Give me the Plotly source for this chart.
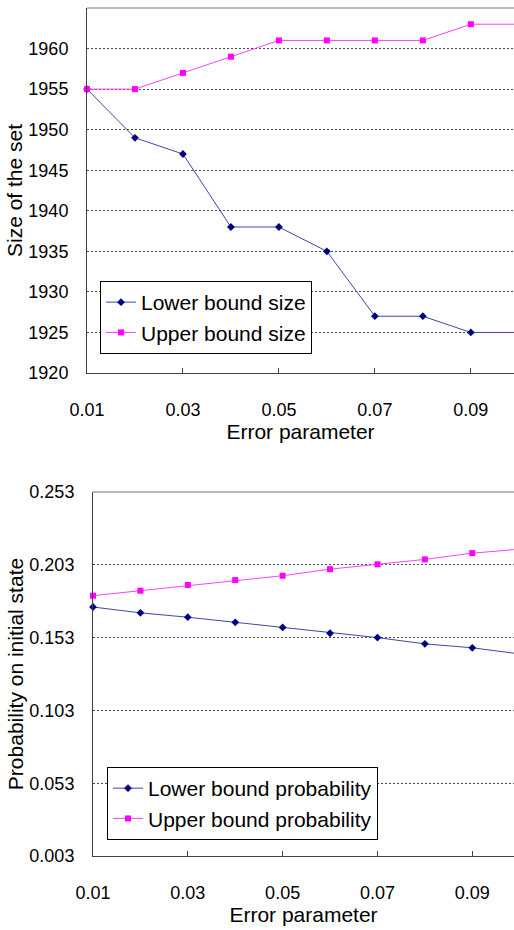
import plotly.graph_objects as go

# ---- data ----
error_param = [0.01, 0.02, 0.03, 0.04, 0.05, 0.06, 0.07, 0.08, 0.09, 0.10]
lower_size = [1955, 1949, 1947, 1938, 1938, 1935, 1927, 1927, 1925, 1925]
upper_size = [1955, 1955, 1957, 1959, 1961, 1961, 1961, 1961, 1963, 1963]
lower_prob = [0.174, 0.170, 0.167, 0.1635, 0.160, 0.156, 0.153, 0.1487, 0.146, 0.1418]
upper_prob = [0.1818, 0.1852, 0.1891, 0.1925, 0.1955, 0.2000, 0.2033, 0.2067, 0.2110, 0.2137]
x_tickvals = [0.01, 0.03, 0.05, 0.07, 0.09]
x_ticktext = ["0.01", "0.03", "0.05", "0.07", "0.09"]
size_ticks = [1920, 1925, 1930, 1935, 1940, 1945, 1950, 1955, 1960, 1965]
prob_ticks = [0.003, 0.053, 0.103, 0.153, 0.203, 0.253]
prob_ticktext = ["0.003", "0.053", "0.103", "0.153", "0.203", "0.253"]

W, H = 514, 930
FONT = "Liberation Sans, Arial, sans-serif"
LOW_LINE = "#4444a8"
LOW_MARK = "#000080"
UP_LINE = "#ff40ff"
UP_MARK = "#ff00ff"
GRID = "#4a4a4a"
AXIS = "#404040"

fig = go.Figure()

def add_pair(xa, ya, low, up, low_name, up_name, legend):
    fig.add_trace(go.Scatter(
        x=error_param, y=low, name=low_name, mode="lines+markers",
        line=dict(color=LOW_LINE, width=1),
        marker=dict(symbol="diamond", size=6, color=LOW_MARK),
        xaxis=xa, yaxis=ya, legend=legend, legendgroup=low_name, cliponaxis=False))
    fig.add_trace(go.Scatter(
        x=error_param, y=up, name=up_name, mode="lines+markers",
        line=dict(color=UP_LINE, width=1),
        marker=dict(symbol="square", size=6, color=UP_MARK),
        xaxis=xa, yaxis=ya, legend=legend, legendgroup=up_name, cliponaxis=False))

add_pair("x", "y", lower_size, upper_size, "Lower bound size", "Upper bound size", "legend")
add_pair("x2", "y2", lower_prob, upper_prob,
         "Lower bound probability", "Upper bound probability", "legend2")

def px_x(p):
    return p / W

def px_y(p):
    return 1 - p / H

xcommon = dict(
    automargin=False,
    tickmode="array", tickvals=x_tickvals, ticktext=x_ticktext,
    ticks="inside", ticklen=5, tickcolor=AXIS, tickwidth=1,
    showline=True, linecolor=AXIS, linewidth=1,
    showgrid=False, zeroline=False,
    tickfont=dict(family=FONT, size=18, color="#000"),
    ticklabelstandoff=20,
    title=dict(text="Error parameter", font=dict(family=FONT, size=21, color="#000"), standoff=0),
)
ycommon = dict(
    automargin=False,
    ticks="", showline=True, linecolor=AXIS, linewidth=1,
    showgrid=True, gridcolor=GRID, griddash="2px,2px", gridwidth=1,
    zeroline=False,
    tickfont=dict(family=FONT, size=18, color="#000"),
    ticklabelstandoff=14,
)

fig.update_layout(
    width=W, height=H,
    margin=dict(l=0, r=0, t=0, b=0),
    paper_bgcolor="white", plot_bgcolor="white",
    font=dict(family=FONT, color="#000"),
    xaxis=dict(domain=[px_x(87), 1], range=[0.01, 0.0990], anchor="y", **xcommon),
    yaxis=dict(domain=[px_y(373), px_y(8)], range=[1920, 1965], anchor="x",
               tickmode="array", tickvals=size_ticks,
               title=dict(text="Size of the set", font=dict(family=FONT, size=21, color="#000"), standoff=0),
               **ycommon),
    xaxis2=dict(domain=[px_x(93), 1], range=[0.01, 0.0988], anchor="y2", **xcommon),
    yaxis2=dict(domain=[px_y(856), px_y(492)], range=[0.003, 0.253], anchor="x2",
                tickmode="array", tickvals=prob_ticks, ticktext=prob_ticktext,
                title=dict(text="Probability on initial state", font=dict(family=FONT, size=21, color="#000"), standoff=0),
                **ycommon),
    legend=dict(x=px_x(100), y=px_y(281), xanchor="left", yanchor="top",
                bgcolor="white", bordercolor="#000", borderwidth=1,
                font=dict(family=FONT, size=21, color="#000"),
                tracegroupgap=0, traceorder="normal"),
    legend2=dict(x=px_x(107), y=px_y(767), xanchor="left", yanchor="top",
                 bgcolor="white", bordercolor="#000", borderwidth=1,
                 font=dict(family=FONT, size=21, color="#000"),
                 tracegroupgap=8, traceorder="normal"),
    showlegend=True,
)

# grey top border of each plot area
for xr, yr in (("x domain", "y domain"), ("x2 domain", "y2 domain")):
    fig.add_shape(type="line", xref=xr, yref=yr, x0=0, x1=1, y0=1, y1=1,
                  line=dict(color="#b8b8b8", width=2), layer="above")

fig.write_html("out.html", config={"displayModeBar": False},
               post_script="document.body.style.margin='0';")
